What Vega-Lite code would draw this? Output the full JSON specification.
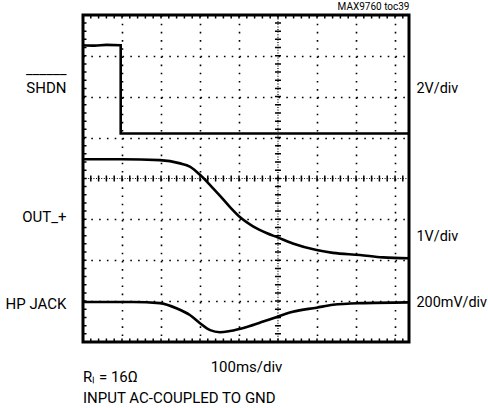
{
  "$schema": "https://vega.github.io/schema/vega-lite/v6.json",
  "width": 326,
  "height": 327,
  "autosize": {"type": "none"},
  "padding": {"left": 83, "top": 15, "right": 79, "bottom": 66},
  "background": "white",
  "config": {
    "font": "Roboto",
    "view": {"stroke": "black", "strokeWidth": 3},
    "axis": {"labelFont": "Roboto", "titleFont": "Roboto", "labelColor": "black", "titleColor": "black", "titleFontWeight": "normal"}
  },
  "title": {
    "text": ["Rₗ = 16Ω", "INPUT AC-COUPLED TO GND"],
    "orient": "bottom",
    "anchor": "start",
    "frame": "group",
    "font": "Roboto",
    "fontSize": 15,
    "fontWeight": "normal",
    "lineHeight": 21,
    "offset": -4,
    "color": "black"
  },
  "datasets": {
    "one": [{}],
    "traces": [
      {"t": 0, "v": 7.26, "ch": "SHDN"},
      {"t": 30, "v": 7.25, "ch": "SHDN"},
      {"t": 60, "v": 7.27, "ch": "SHDN"},
      {"t": 96.7, "v": 7.26, "ch": "SHDN"},
      {"t": 96.7, "v": 5.1, "ch": "SHDN"},
      {"t": 300, "v": 5.1, "ch": "SHDN"},
      {"t": 600, "v": 5.1, "ch": "SHDN"},
      {"t": 836, "v": 5.1, "ch": "SHDN"},
      {"t": 0, "v": 4.47, "ch": "OUT"},
      {"t": 100, "v": 4.47, "ch": "OUT"},
      {"t": 197, "v": 4.45, "ch": "OUT"},
      {"t": 249, "v": 4.37, "ch": "OUT"},
      {"t": 274, "v": 4.29, "ch": "OUT"},
      {"t": 300, "v": 4.09, "ch": "OUT"},
      {"t": 326, "v": 3.84, "ch": "OUT"},
      {"t": 351, "v": 3.58, "ch": "OUT"},
      {"t": 377, "v": 3.3, "ch": "OUT"},
      {"t": 403, "v": 3.05, "ch": "OUT"},
      {"t": 436, "v": 2.83, "ch": "OUT"},
      {"t": 472, "v": 2.66, "ch": "OUT"},
      {"t": 499, "v": 2.56, "ch": "OUT"},
      {"t": 538, "v": 2.41, "ch": "OUT"},
      {"t": 599, "v": 2.25, "ch": "OUT"},
      {"t": 641, "v": 2.18, "ch": "OUT"},
      {"t": 710, "v": 2.13, "ch": "OUT"},
      {"t": 769, "v": 2.07, "ch": "OUT"},
      {"t": 836, "v": 2.05, "ch": "OUT"},
      {"t": 0, "v": 0.98, "ch": "HP"},
      {"t": 128, "v": 0.98, "ch": "HP"},
      {"t": 197, "v": 0.95, "ch": "HP"},
      {"t": 241, "v": 0.82, "ch": "HP"},
      {"t": 274, "v": 0.66, "ch": "HP"},
      {"t": 300, "v": 0.46, "ch": "HP"},
      {"t": 326, "v": 0.29, "ch": "HP"},
      {"t": 351, "v": 0.24, "ch": "HP"},
      {"t": 377, "v": 0.27, "ch": "HP"},
      {"t": 420, "v": 0.37, "ch": "HP"},
      {"t": 462, "v": 0.5, "ch": "HP"},
      {"t": 499, "v": 0.62, "ch": "HP"},
      {"t": 538, "v": 0.74, "ch": "HP"},
      {"t": 599, "v": 0.84, "ch": "HP"},
      {"t": 641, "v": 0.91, "ch": "HP"},
      {"t": 710, "v": 0.95, "ch": "HP"},
      {"t": 836, "v": 0.97, "ch": "HP"}
    ]
  },
  "resolve": {"axis": {"x": "independent", "y": "independent"}},
  "layer": [
    {
      "data": {"name": "one"},
      "mark": {"type": "rule", "color": "black", "strokeWidth": 1.2, "strokeDash": [1, 1.6]},
      "encoding": {
        "x": {"datum": 500, "type": "quantitative", "scale": {"domain": [0, 836], "nice": false, "zero": false}, "axis": null},
        "y": {"datum": 0, "type": "quantitative", "scale": {"domain": [0, 8], "nice": false, "zero": false}, "axis": null},
        "y2": {"datum": 8}
      }
    },
    {
      "data": {"name": "one"},
      "mark": {"type": "rule", "color": "black", "strokeWidth": 6, "strokeDash": [1.5, 6.68], "strokeDashOffset": 0.75},
      "encoding": {
        "x": {"datum": 500, "type": "quantitative", "scale": {"domain": [0, 836], "nice": false, "zero": false}, "axis": null},
        "y": {"datum": 0, "type": "quantitative", "scale": {"domain": [0, 8], "nice": false, "zero": false}, "axis": null},
        "y2": {"datum": 8}
      }
    },
    {
      "data": {"name": "one"},
      "mark": {"type": "rule", "color": "black", "strokeWidth": 1.2, "strokeDash": [1, 1.6]},
      "encoding": {
        "x": {"datum": 0, "type": "quantitative", "scale": {"domain": [0, 836], "nice": false, "zero": false}, "axis": null},
        "x2": {"datum": 836},
        "y": {"datum": 4, "type": "quantitative", "scale": {"domain": [0, 8], "nice": false, "zero": false}, "axis": null}
      }
    },
    {
      "data": {"name": "one"},
      "mark": {"type": "rule", "color": "black", "strokeWidth": 6, "strokeDash": [1.5, 6.3], "strokeDashOffset": 0.75},
      "encoding": {
        "x": {"datum": 0, "type": "quantitative", "scale": {"domain": [0, 836], "nice": false, "zero": false}, "axis": null},
        "x2": {"datum": 836},
        "y": {"datum": 4, "type": "quantitative", "scale": {"domain": [0, 8], "nice": false, "zero": false}, "axis": null}
      }
    },
    {
      "data": {"name": "one"},
      "mark": {"type": "rule", "color": "black", "strokeWidth": 7, "strokeDash": [1.5, 6.68], "strokeDashOffset": 0.75, "clip": true},
      "encoding": {
        "x": {"datum": 0, "type": "quantitative", "scale": {"domain": [0, 836], "nice": false, "zero": false}, "axis": null},
        "y": {"datum": 0, "type": "quantitative", "scale": {"domain": [0, 8], "nice": false, "zero": false}, "axis": null},
        "y2": {"datum": 8}
      }
    },
    {
      "data": {"name": "one"},
      "mark": {"type": "rule", "color": "black", "strokeWidth": 7, "strokeDash": [1.5, 6.3], "strokeDashOffset": 0.75, "clip": true},
      "encoding": {
        "x": {"datum": 0, "type": "quantitative", "scale": {"domain": [0, 836], "nice": false, "zero": false}, "axis": null},
        "x2": {"datum": 836},
        "y": {"datum": 0, "type": "quantitative", "scale": {"domain": [0, 8], "nice": false, "zero": false}, "axis": null}
      }
    },
    {
      "data": {"name": "one"},
      "mark": {"type": "rule", "color": "black", "strokeWidth": 7, "strokeDash": [1.5, 6.3], "strokeDashOffset": 0.75, "clip": true},
      "encoding": {
        "x": {"datum": 0, "type": "quantitative", "scale": {"domain": [0, 836], "nice": false, "zero": false}, "axis": null},
        "x2": {"datum": 836},
        "y": {"datum": 8, "type": "quantitative", "scale": {"domain": [0, 8], "nice": false, "zero": false}, "axis": null}
      }
    },
    {
      "data": {"name": "traces"},
      "mark": {"type": "line", "strokeOpacity": 0},
      "encoding": {
        "x": {"field": "t", "type": "quantitative", "scale": {"domain": [0, 836], "nice": false, "zero": false},
          "axis": {"orient": "top", "labels": false, "ticks": false, "domain": false, "grid": false,
            "title": "MAX9760 toc39", "titleAnchor": "end", "titleFontSize": 10, "titlePadding": 4}},
        "y": {"field": "v", "type": "quantitative", "scale": {"domain": [0, 8], "nice": false, "zero": false},
          "axis": {"orient": "right", "values": [0.97, 2.58, 6.19], "ticks": false, "domain": false, "grid": false, "title": null,
            "labelExpr": "datum.value == 0.97 ? '200mV/div' : datum.value == 2.58 ? '1V/div' : '2V/div'",
            "labelFontSize": 14.4, "labelPadding": 7, "labelAlign": "left", "labelBaseline": "middle",
            "labelOverlap": false, "labelBound": false, "labelFlush": false}},
        "detail": {"field": "ch"}
      }
    },
    {
      "data": {"name": "traces"},
      "mark": {"type": "line", "color": "black", "strokeWidth": 2.6, "interpolate": "monotone"},
      "encoding": {
        "x": {"field": "t", "type": "quantitative", "scale": {"domain": [0, 836], "nice": false, "zero": false},
          "axis": {"orient": "bottom", "values": [100, 200, 300, 400, 600, 700, 800], "labels": false, "ticks": false, "domain": false,
            "grid": true, "gridColor": "black", "gridWidth": 1.6, "gridDash": [1.6, 6.58], "gridOpacity": 1,
            "title": "100ms/div", "titleFontSize": 15, "titlePadding": 17}},
        "y": {"field": "v", "type": "quantitative", "scale": {"domain": [0, 8], "nice": false, "zero": false},
          "axis": {"orient": "left", "values": [0.93, 1, 2, 3, 3.06, 5, 6, 6.22, 6.7, 7], "ticks": false, "domain": false,
            "grid": true, "gridColor": "black", "gridWidth": 1.6, "gridDash": [1.6, 6.2],
            "gridOpacity": {"condition": {"test": "datum.value % 1 == 0", "value": 1}, "value": 0},
            "title": null,
            "labelExpr": "datum.value == 0.93 ? 'HP JACK' : datum.value == 3.06 ? 'OUT_+' : datum.value == 6.22 ? 'SHDN' : datum.value == 6.7 ? '______' : ''",
            "labelFontSize": 15, "labelPadding": 17, "labelBaseline": "middle",
            "labelOverlap": false, "labelBound": false, "labelFlush": false}},
        "detail": {"field": "ch"}
      }
    }
  ]
}
